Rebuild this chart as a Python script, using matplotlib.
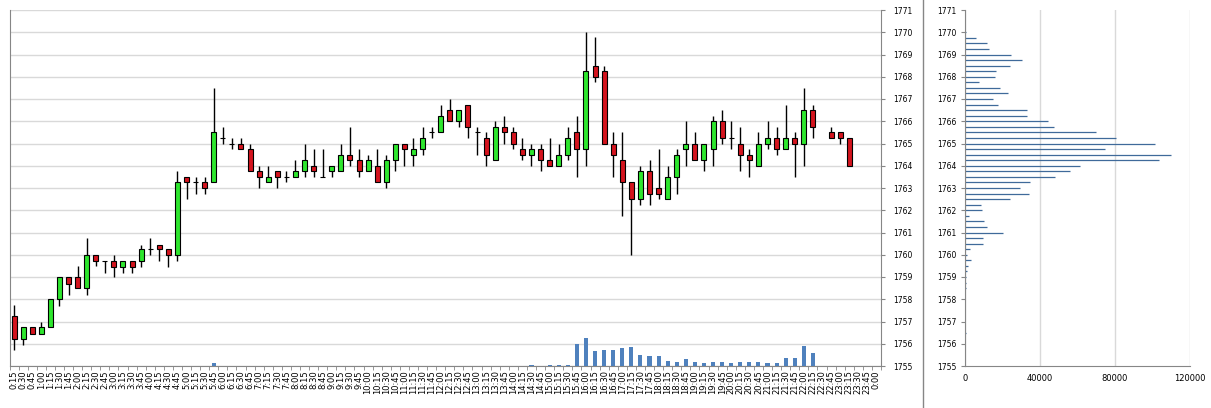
import matplotlib
matplotlib.use("Agg")
import matplotlib.pyplot as plt
import numpy as np
from matplotlib.lines import Line2D

# 15 minute bars, 0:15 ... 0:00
times = ["%d:%02d" % (((i + 1) * 15 // 60) % 24, ((i + 1) * 15) % 60) for i in range(96)]

nan = np.nan
opens = [1757.25, 1756.2, 1756.75, 1756.45, 1756.75, 1758.0, 1759.0, 1759.0, 1758.5, 1760.0,
         1759.7, 1759.7, 1759.45, 1759.7, 1759.7, 1760.25, 1760.45, 1760.25, 1760.0, 1763.5,
         1763.25, 1763.25, 1763.25, 1765.25, 1765.0, 1765.0, 1764.75, 1763.75, 1763.25, 1763.75,
         1763.5, 1763.5, 1763.75, 1764.0, 1763.5, 1763.75, 1763.75, 1764.5, 1764.25, 1763.75,
         1764.0, 1763.25, 1764.25, 1765.0, 1764.5, 1764.75, 1765.5, 1765.5, 1766.5, 1766.0,
         1766.75, 1765.5, 1765.25, 1764.25, 1765.75, 1765.5, 1764.75, 1764.5, 1764.75, 1764.25,
         1764.0, 1764.5, 1765.5, 1764.75, 1768.5, 1768.25, 1765.0, 1764.25, 1763.25, 1762.5,
         1763.75, 1763.0, 1762.5, 1763.5, 1764.75, 1765.0, 1764.25, 1764.75, 1766.0, 1765.25,
         1765.0, 1764.5, 1764.0, 1765.0, 1765.25, 1764.75, 1765.25, 1765.0, 1766.5, nan,
         1765.5, 1765.5, 1765.25, nan, nan, nan]
highs = [1757.75, 1756.75, 1756.75, 1757.0, 1758.0, 1759.0, 1759.0, 1759.5, 1760.75, 1760.0,
         1759.7, 1760.0, 1759.7, 1759.7, 1760.45, 1760.75, 1760.45, 1760.25, 1763.75, 1763.5,
         1763.5, 1763.5, 1767.5, 1765.75, 1765.25, 1765.25, 1765.0, 1764.0, 1764.0, 1763.75,
         1763.75, 1764.25, 1765.0, 1764.75, 1764.75, 1764.0, 1765.0, 1765.75, 1764.75, 1764.5,
         1764.75, 1764.5, 1765.0, 1765.0, 1765.25, 1765.75, 1765.75, 1766.75, 1767.0, 1766.5,
         1766.75, 1765.75, 1765.5, 1766.0, 1766.25, 1765.75, 1765.25, 1765.0, 1765.0, 1765.25,
         1765.0, 1765.75, 1766.25, 1770.0, 1769.8, 1768.5, 1765.5, 1765.5, 1763.25, 1764.0,
         1764.25, 1764.75, 1764.0, 1764.75, 1766.0, 1765.5, 1765.0, 1766.25, 1766.5, 1766.0,
         1765.75, 1764.75, 1765.5, 1766.0, 1765.75, 1766.75, 1765.5, 1767.5, 1766.75, nan,
         1765.75, 1765.5, 1765.25, nan, nan, nan]
lows = [1755.7, 1755.95, 1756.45, 1756.45, 1756.75, 1757.7, 1758.2, 1758.5, 1758.2, 1759.5,
        1759.2, 1759.0, 1759.2, 1759.2, 1759.45, 1760.0, 1759.7, 1759.45, 1759.7, 1762.5,
        1762.75, 1762.75, 1763.25, 1765.0, 1764.75, 1764.75, 1763.75, 1763.0, 1763.25, 1763.0,
        1763.25, 1763.5, 1763.5, 1763.5, 1763.5, 1763.5, 1763.75, 1764.0, 1763.5, 1763.75,
        1763.25, 1763.0, 1763.75, 1764.0, 1764.0, 1764.5, 1765.25, 1765.5, 1766.0, 1765.75,
        1765.25, 1764.5, 1764.0, 1764.25, 1765.0, 1764.75, 1764.25, 1764.0, 1763.75, 1764.0,
        1764.0, 1764.25, 1763.5, 1764.0, 1767.75, 1765.0, 1763.5, 1761.75, 1760.0, 1762.25,
        1762.25, 1762.5, 1762.5, 1762.75, 1764.0, 1764.25, 1763.75, 1764.0, 1765.0, 1764.75,
        1763.75, 1763.5, 1764.0, 1764.75, 1764.5, 1764.75, 1763.5, 1764.0, 1765.25, nan,
        1765.25, 1765.0, 1764.0, nan, nan, nan]
closes = [1756.2, 1756.75, 1756.45, 1756.75, 1758.0, 1759.0, 1758.7, 1758.5, 1760.0, 1759.7,
          1759.7, 1759.45, 1759.7, 1759.45, 1760.25, 1760.25, 1760.25, 1760.0, 1763.25, 1763.25,
          1763.25, 1763.0, 1765.5, 1765.25, 1765.0, 1764.75, 1763.75, 1763.5, 1763.5, 1763.5,
          1763.5, 1763.75, 1764.25, 1763.75, 1763.5, 1764.0, 1764.5, 1764.25, 1763.75, 1764.25,
          1763.25, 1764.25, 1765.0, 1764.75, 1764.75, 1765.25, 1765.5, 1766.25, 1766.0, 1766.5,
          1765.75, 1765.5, 1764.5, 1765.75, 1765.5, 1765.0, 1764.5, 1764.75, 1764.25, 1764.0,
          1764.5, 1765.25, 1764.75, 1768.25, 1768.0, 1765.0, 1764.5, 1763.25, 1762.5, 1763.75,
          1762.75, 1762.75, 1763.5, 1764.5, 1765.0, 1764.25, 1765.0, 1766.0, 1765.25, 1765.25,
          1764.5, 1764.25, 1765.0, 1765.25, 1764.75, 1765.25, 1765.0, 1766.5, 1765.75, nan,
          1765.25, 1765.25, 1764.0, nan, nan, nan]
volumes = [0, 0, 0, 0, 0, 0, 0, 0, 0, 0, 0, 0, 0, 0, 0, 0, 0, 0, 1500, 0,
           0, 0, 8000, 0, 0, 0, 0, 0, 0, 0, 0, 0, 0, 0, 0, 0, 0, 1500, 0, 0,
           0, 0, 0, 0, 0, 0, 0, 0, 0, 0, 0, 0, 0, 0, 0, 0, 0, 2000, 0, 2000,
           3000, 3000, 66000, 84000, 46000, 48000, 48000, 54000, 57000, 33000,
           30000, 30000, 15000, 12000, 21000, 12000, 9000, 12000, 12000, 9000,
           12000, 12000, 12000, 9000, 9000, 24000, 24000, 60000, 39000, 0,
           0, 0, 0, 0, 0, 0]

# volume profile
prof_levels = [1770.0, 1769.75, 1769.5, 1769.25, 1769.0, 1768.75, 1768.5, 1768.25, 1768.0, 1767.75,
               1767.5, 1767.25, 1767.0, 1766.75, 1766.5, 1766.25, 1766.0, 1765.75, 1765.5, 1765.25,
               1765.0, 1764.75, 1764.5, 1764.25, 1764.0, 1763.75, 1763.5, 1763.25, 1763.0, 1762.75,
               1762.5, 1762.25, 1762.0, 1761.75, 1761.5, 1761.25, 1761.0, 1760.75, 1760.5, 1760.25,
               1760.0, 1759.75, 1759.5, 1759.25, 1759.0, 1758.75, 1758.5, 1758.25, 1756.5]
prof_vols = [500, 5900, 11600, 12800, 24500, 30600, 24000, 16500, 16000, 7300,
             18700, 22900, 14800, 17600, 33100, 33100, 44100, 47600, 69700, 80500,
             101300, 74700, 109900, 103500, 61300, 56200, 48200, 34700, 29500, 34000,
             23800, 8400, 9100, 2100, 10100, 11900, 20300, 9800, 9800, 2700,
             1200, 3200, 1400, 900, 500, 300, 300, 200, 300]

spine_c = "#868686"
grid_c = "#d9d9d9"
green = "#2ee62e"
red = "#d4141e"

fig = plt.figure(figsize=(12.11, 4.08), dpi=100)
W, H = 1211.0, 408.0
ax = fig.add_axes([9.5 / W, 42 / H, 871.5 / W, 356 / H])

x = np.arange(len(times))
o = np.array(opens); c = np.array(closes)
h = np.array(highs); l = np.array(lows)
ok = ~np.isnan(o)

# volume on a hidden second scale
axv = ax.twinx()
axv.bar(x, volumes, width=0.45, color="#4f81bd", zorder=1)
axv.set_ylim(0, 1068000)
axv.set_axis_off()

ax.vlines(x[ok], l[ok], h[ok], color="black", lw=1, zorder=2)
cols = [green if cc > oo else red for oo, cc in zip(o[ok], c[ok])]
ax.bar(x[ok], np.abs(c[ok] - o[ok]), bottom=np.minimum(o[ok], c[ok]), width=0.55,
       color=cols, edgecolor="black", linewidth=0.8, zorder=3)

ax.set_xlim(-0.5, len(times) - 0.5)
ax.set_ylim(1755, 1771)
ax.set_yticks(range(1755, 1772))
ax.yaxis.tick_right()
ax.grid(axis="y", color=grid_c, lw=1)
ax.set_axisbelow(True)
ax.set_xticks(x)
ax.set_xticklabels(times, rotation=90, fontsize=6)
ax.set_xticks(np.arange(-0.5, len(times), 1), minor=True)
ax.tick_params(axis="x", which="major", length=0, pad=3)
ax.tick_params(axis="x", which="minor", length=3, color=spine_c, direction="out")
ax.tick_params(axis="y", length=3, color=spine_c, labelsize=5.5, pad=6)
for s in ["left", "bottom", "right"]:
    ax.spines[s].set_color(spine_c)
ax.spines["top"].set_visible(False)

# profile
ax2 = fig.add_axes([965 / W, 42 / H, 225 / W, 356 / H])
ax2.hlines(prof_levels, 0, prof_vols, color="#3f6a9a", lw=0.9)
ax2.set_xlim(0, 120000)
ax2.set_ylim(1755, 1771)
ax2.set_yticks(range(1755, 1772))
ax2.set_xticks([0, 40000, 80000, 120000])
ax2.grid(axis="x", color=grid_c, lw=1)
ax2.set_axisbelow(True)
ax2.tick_params(axis="y", length=3, color=spine_c, labelsize=5.5, pad=3)
ax2.tick_params(axis="x", length=0, labelsize=6, pad=6)
for s in ["left", "bottom"]:
    ax2.spines[s].set_color(spine_c)
for s in ["top", "right"]:
    ax2.spines[s].set_visible(False)

fig.add_artist(Line2D([923 / W, 923 / W], [0, 1], transform=fig.transFigure, color=spine_c, lw=1))

fig.savefig("out.png", dpi=100)
